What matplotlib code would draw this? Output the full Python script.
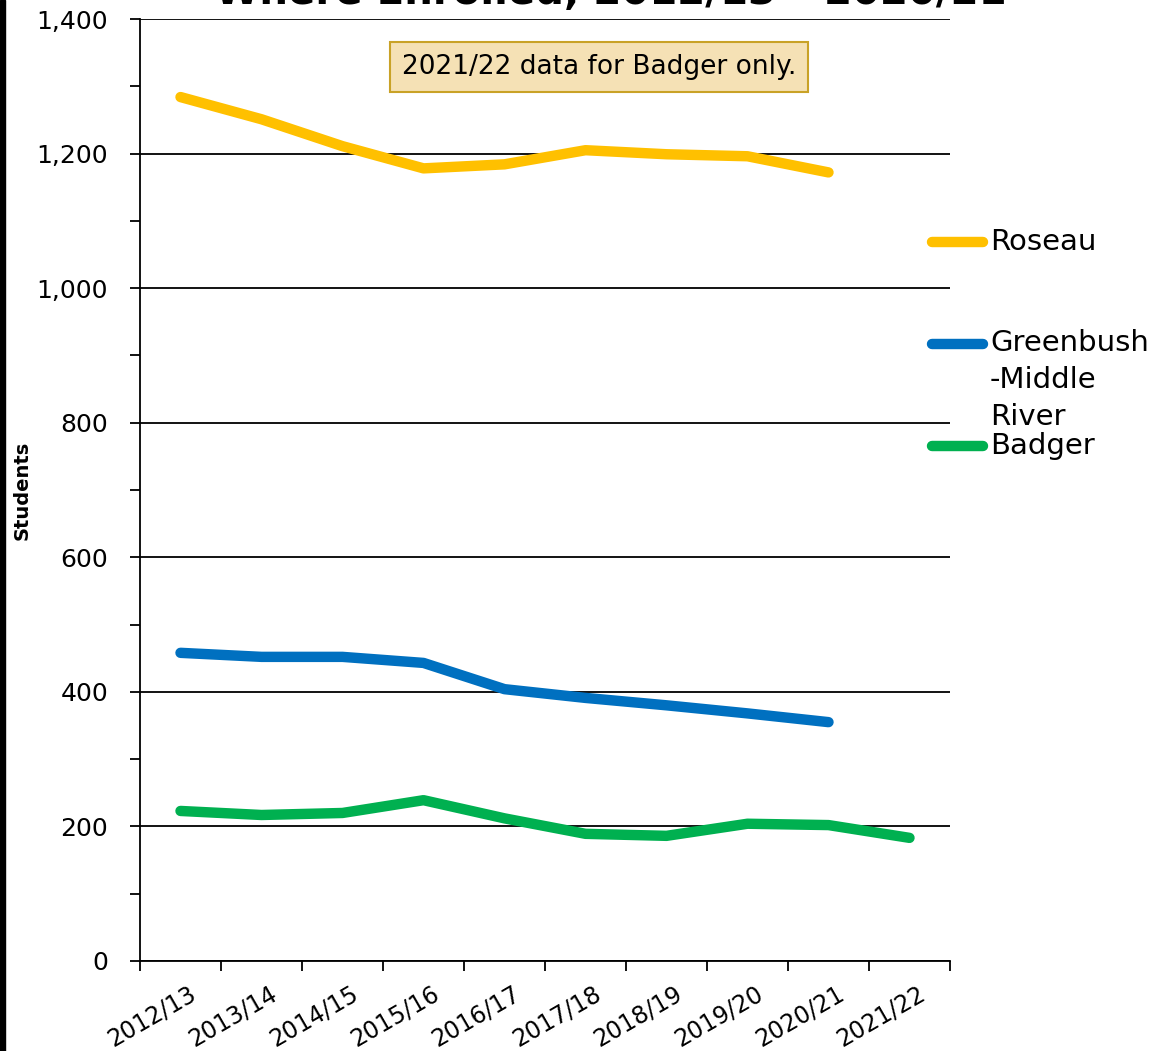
import matplotlib.pyplot as plt
from matplotlib.lines import Line2D
from matplotlib.patches import Rectangle
from matplotlib.ticker import MultipleLocator, FuncFormatter

years = ["2012/13", "2013/14", "2014/15", "2015/16", "2016/17",
         "2017/18", "2018/19", "2019/20", "2020/21", "2021/22"]
roseau = [1284, 1251, 1211, 1178, 1184, 1205, 1199, 1196, 1172]
greenbush = [458, 452, 452, 443, 404, 391, 380, 368, 355]
badger = [223, 217, 220, 239, 212, 189, 186, 204, 202, 183]

names = ["Roseau", "Greenbush\n-Middle\nRiver", "Badger"]
colors = ["#FFC000", "#0070C0", "#00B050"]

plt.rcParams['font.family'] = ['DejaVu Sans']

fig = plt.figure(figsize=(11.67, 10.51), dpi=100)
ax = fig.add_axes([140 / 1167, 1 - 961 / 1051, 810 / 1167, 942 / 1051])

for vals, c in zip([roseau, greenbush, badger], colors):
    x = [i + 0.5 for i in range(len(vals))]
    ax.plot(x, vals, color=c, lw=7.5, solid_capstyle='round',
            solid_joinstyle='round', zorder=3)

ax.set_xlim(0, len(years))
ax.set_ylim(0, 1400)
ax.yaxis.set_major_locator(MultipleLocator(200))
ax.yaxis.set_minor_locator(MultipleLocator(100))
ax.yaxis.set_major_formatter(FuncFormatter(lambda v, p: f"{int(v):,}"))
ax.grid(axis='y', which='major', color='black', lw=1.3)
ax.set_axisbelow(True)

ax.set_xticks(range(len(years) + 1))
ax.set_xticklabels([""] * (len(years) + 1))
for i, lab in enumerate(years):
    ax.text(i + 0.6, -30, lab, rotation=30, ha='right', va='top',
            rotation_mode='anchor', fontsize=17)

ax.tick_params(axis='y', which='both', direction='out', length=7,
               width=1.3, labelsize=18, pad=16)
ax.tick_params(axis='x', direction='out', length=7, width=1.3)
for s in ['top', 'right']:
    ax.spines[s].set_visible(False)
for s in ['left', 'bottom']:
    ax.spines[s].set_linewidth(1.3)

ax.set_ylabel("Students", fontsize=14, fontweight='bold')
ax.yaxis.set_label_coords(-0.134, 0.5)

ax.text(0.567, 0.949, "2021/22 data for Badger only.", transform=ax.transAxes,
        ha='center', va='center', fontsize=19,
        bbox=dict(boxstyle='square,pad=0.45', fc='#F5E1B5', ec='#C9A227', lw=1.5))

fig.text(0.523, 1.0 + 7 / 1051, "Where Enrolled, 2012/13 \u2013 2020/21",
         ha='center', va='center', fontsize=29, fontweight='bold')

# legend at right
leg_y = [242, 344, 446]
for name, c, yp in zip(names, colors, leg_y):
    fy = 1 - yp / 1051
    fig.add_artist(Line2D([932 / 1167, 983 / 1167], [fy, fy], color=c, lw=7.5,
                          solid_capstyle='round'))
    if '\n' in name:
        fig.text(990 / 1167, 1 - (yp - 15) / 1051, name, ha='left', va='top',
                 fontsize=21, linespacing=1.42)
    else:
        fig.text(990 / 1167, fy, name, ha='left', va='center', fontsize=21)

fig.add_artist(Rectangle((0, 0), 5 / 1167, 1, transform=fig.transFigure,
                         color='black'))

fig.savefig("out.png", dpi=100)
